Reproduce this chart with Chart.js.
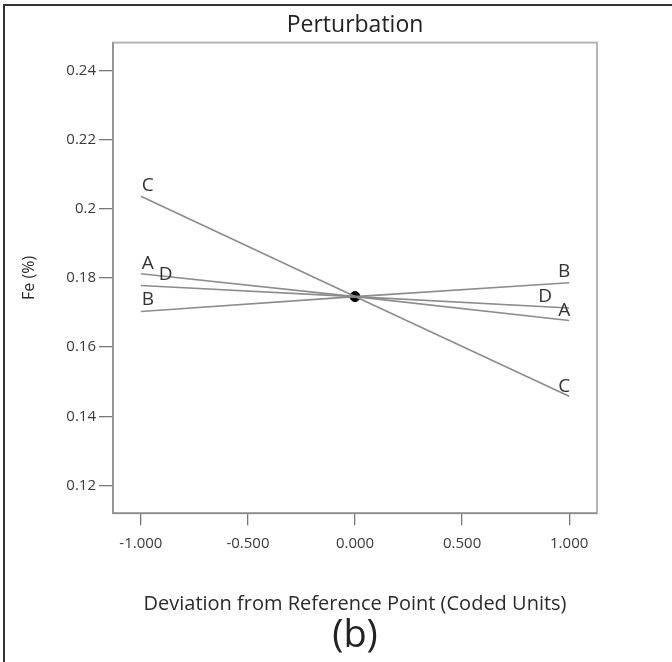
<!DOCTYPE html>
<html>
<head>
<meta charset="utf-8">
<script src="https://cdn.jsdelivr.net/npm/chart.js@4"></script>
<style>
  html, body { margin: 0; padding: 0; background: #fff; }
  #wrap { width: 672px; height: 662px; }
</style>
</head>
<body>
<div id="wrap"><canvas id="chart" width="672" height="662"></canvas></div>
<script>
// factor names and their responses at -1, 0, +1 (coded units)
const factors = ['A', 'B', 'C', 'D'];
const xCoded = [-1, 0, 1];
const feA = [0.1812, 0.1746, 0.1677];
const feB = [0.1703, 0.1746, 0.1786];
const feC = [0.2036, 0.1746, 0.1458];
const feD = [0.1778, 0.1746, 0.1713];
const refPoint = [0, 0.1746];

const xTicks = [-1, -0.5, 0, 0.5, 1];
const xTickLabels = ['-1.000', '-0.500', '0.000', '0.500', '1.000'];
const yTicks = [0.12, 0.14, 0.16, 0.18, 0.2, 0.22, 0.24];
const yTickLabels = ['0.12', '0.14', '0.16', '0.18', '0.2', '0.22', '0.24'];

const series = [feA, feB, feC, feD];
const FONT = "'Open Sans', 'Noto Sans', sans-serif";

const datasets = factors.map((name, i) => ({
  label: name,
  data: xCoded.map((x, j) => ({x: x, y: series[i][j]})),
  borderColor: '#8c8c8c',
  borderWidth: 1.6,
  pointRadius: 0,
  fill: false,
  tension: 0
}));
datasets.push({
  label: 'ref',
  type: 'scatter',
  data: [{x: refPoint[0], y: refPoint[1]}],
  pointRadius: 5,
  pointBackgroundColor: '#000',
  pointBorderColor: '#000'
});

// letter offsets next to the line ends: [dx, dy, align]
const leftLab = {A: [1, -5, 'left'], B: [1, -6, 'left'], C: [1, -5, 'left'], D: [18, -6, 'left']};
const rightLab = {A: [1, -4, 'right'], B: [1, -6, 'right'], C: [1, -4, 'right'], D: [-17, -6, 'right']};

const decor = {
  id: 'decor',
  beforeDraw(chart) {
    const ctx = chart.ctx;
    ctx.save();
    ctx.fillStyle = '#fff';
    ctx.fillRect(0, 0, chart.width, chart.height);
    ctx.strokeStyle = '#333';
    ctx.lineWidth = 2;
    ctx.beginPath();
    ctx.moveTo(4, chart.height);
    ctx.lineTo(4, 5);
    ctx.lineTo(chart.width, 5);
    ctx.stroke();
    ctx.restore();
  },
  afterDatasetsDraw(chart) {
    const ctx = chart.ctx;
    const a = chart.chartArea;
    ctx.save();
    ctx.strokeStyle = '#b4b4b4';
    ctx.lineWidth = 2;
    ctx.strokeRect(a.left, a.top, a.right - a.left, a.bottom - a.top);
    ctx.strokeStyle = '#8a8a8a';
    ctx.lineWidth = 1.5;
    ctx.beginPath();
    ctx.moveTo(a.left, a.top);
    ctx.lineTo(a.left, a.bottom);
    ctx.lineTo(a.right, a.bottom);
    ctx.stroke();

    ctx.fillStyle = '#333';
    ctx.font = '19px ' + FONT;
    ctx.textBaseline = 'alphabetic';
    factors.forEach((name, i) => {
      const pts = chart.getDatasetMeta(i).data;
      const p0 = pts[0], p2 = pts[pts.length - 1];
      const l = leftLab[name], r = rightLab[name];
      ctx.textAlign = l[2];
      ctx.fillText(name, p0.x + l[0], p0.y + l[1]);
      ctx.textAlign = r[2];
      ctx.fillText(name, p2.x + r[0], p2.y + r[1]);
    });
    ctx.restore();
  }
};

new Chart(document.getElementById('chart'), {
  type: 'line',
  data: {datasets: datasets},
  plugins: [decor],
  options: {
    responsive: false,
    animation: false,
    layout: {padding: {left: 0, right: 75, top: 0, bottom: 0}},
    plugins: {
      legend: {display: false},
      tooltip: {enabled: false},
      title: {
        display: true,
        fullSize: false,
        text: 'Perturbation',
        color: '#222',
        font: {family: FONT, size: 23, weight: 'normal', lineHeight: 1.2},
        padding: {top: 12, bottom: 3}
      },
      subtitle: {
        display: true,
        fullSize: false,
        position: 'bottom',
        text: '(b)',
        color: '#222',
        font: {family: FONT, size: 38, weight: 'normal', lineHeight: 1.1},
        padding: {top: 0, bottom: 5}
      }
    },
    scales: {
      x: {
        type: 'linear',
        min: -1.13,
        max: 1.13,
        afterBuildTicks: s => { s.ticks = xTicks.map(v => ({value: v})); },
        afterFit: s => { s.height = 102; },
        ticks: {
          color: '#3a3a3a',
          font: {family: FONT, size: 15},
          padding: 10,
          maxRotation: 0,
          callback: (v, i) => xTickLabels[i]
        },
        grid: {display: true, drawOnChartArea: false, drawTicks: true, tickLength: 12, color: '#777', lineWidth: 1.3},
        border: {display: false},
        title: {
          display: true,
          text: 'Deviation from Reference Point (Coded Units)',
          color: '#2a2a2a',
          font: {family: FONT, size: 20, lineHeight: 1},
          padding: {top: 0, bottom: 1}
        }
      },
      y: {
        type: 'linear',
        min: 0.112,
        max: 0.248,
        afterBuildTicks: s => { s.ticks = yTicks.map(v => ({value: v})); },
        afterFit: s => { s.width = 113; },
        ticks: {
          color: '#3a3a3a',
          font: {family: FONT, size: 15},
          padding: 3,
          callback: (v, i) => yTickLabels[i]
        },
        grid: {display: true, drawOnChartArea: false, drawTicks: true, tickLength: 14, color: '#777', lineWidth: 1.3},
        border: {display: false},
        title: {
          display: true,
          text: 'Fe (%)',
          color: '#2a2a2a',
          font: {family: FONT, size: 16, lineHeight: 1.2},
          padding: {top: 20, bottom: 0}
        }
      }
    }
  }
});
</script>
</body>
</html>
